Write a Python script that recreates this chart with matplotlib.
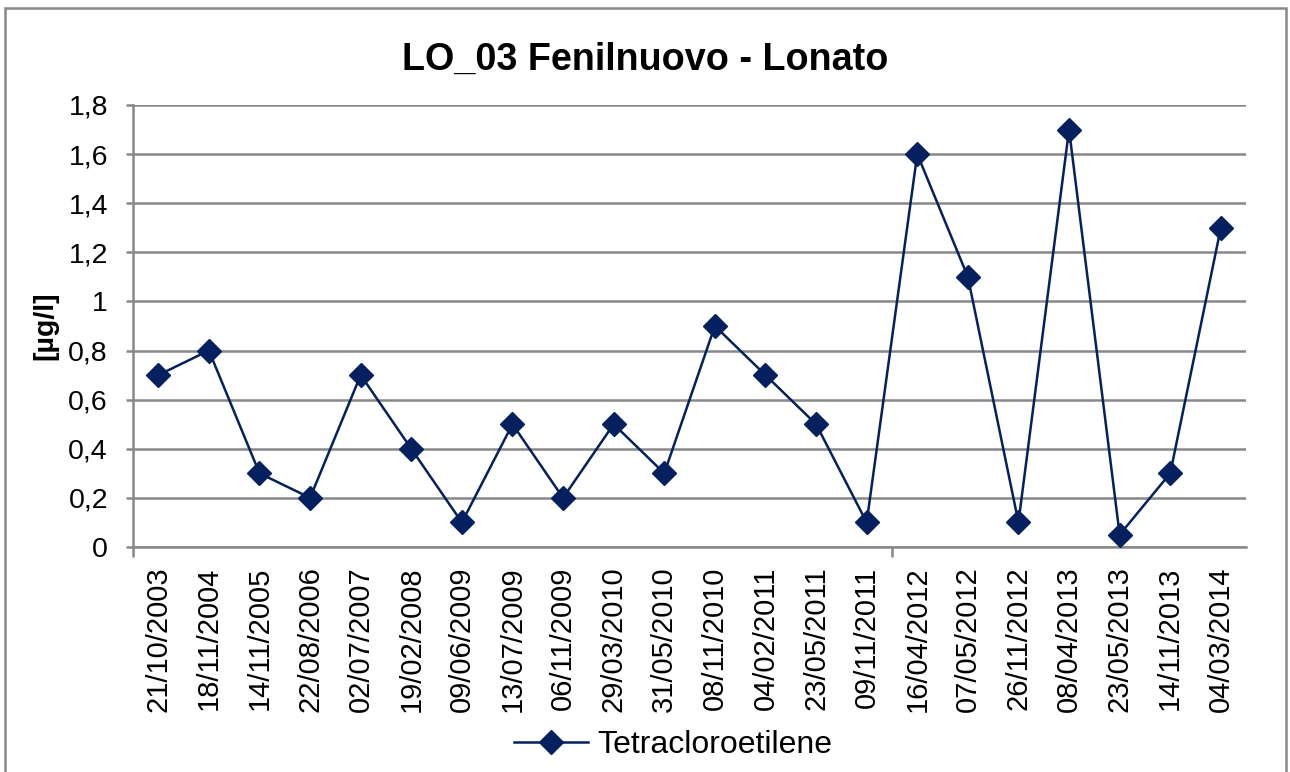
import matplotlib
matplotlib.use('Agg')
import matplotlib.pyplot as plt
from matplotlib.ticker import FuncFormatter, FixedLocator
from matplotlib.patches import Rectangle

plt.rcParams['font.family'] = ['Liberation Sans', 'DejaVu Sans']

# Data
dates = ['21/10/2003', '18/11/2004', '14/11/2005', '22/08/2006', '02/07/2007',
         '19/02/2008', '09/06/2009', '13/07/2009', '06/11/2009', '29/03/2010',
         '31/05/2010', '08/11/2010', '04/02/2011', '23/05/2011', '09/11/2011',
         '16/04/2012', '07/05/2012', '26/11/2012', '08/04/2013', '23/05/2013',
         '14/11/2013', '04/03/2014']
tetracloroetilene = [0.7, 0.8, 0.3, 0.2, 0.7, 0.4, 0.1, 0.5, 0.2, 0.5, 0.3,
                     0.9, 0.7, 0.5, 0.1, 1.6, 1.1, 0.1, 1.7, 0.05, 0.3, 1.3]
y_ticks = [0, 0.2, 0.4, 0.6, 0.8, 1.0, 1.2, 1.4, 1.6, 1.8]

GRID = '#888888'
LINE = '#04205e'

fig = plt.figure(figsize=(12.9, 7.72), dpi=100)
ax = fig.add_axes([0.1031, 0.2915, 0.8629, 0.5725])

x = list(range(len(dates)))
line, = ax.plot(x, tetracloroetilene, color=LINE, lw=1.8, marker='D', ms=12,
                markerfacecolor=LINE, markeredgecolor=LINE, label='Tetracloroetilene',
                zorder=3)

ax.set_xlim(-0.5, len(dates) - 0.5)
ax.set_ylim(0, 1.8)
ax.set_yticks(y_ticks)
ax.yaxis.set_major_formatter(FuncFormatter(lambda v, p: ('%g' % round(v, 2)).replace('.', ',')))
ax.grid(axis='y', color=GRID, lw=1.8, zorder=0)

ax.set_xticks(x)
ax.set_xticklabels(dates, rotation=90)
ax.xaxis.set_minor_locator(FixedLocator([-0.5, 14.5]))
ax.tick_params(axis='x', which='major', length=0, pad=14, labelsize=21)
ax.tick_params(axis='x', which='minor', length=7, width=1.8, color=GRID)
ax.tick_params(axis='y', length=5, width=1.8, color=GRID, pad=13, labelsize=20.5)

for s in ['top', 'right']:
    ax.spines[s].set_visible(False)
for s in ['left', 'bottom']:
    ax.spines[s].set_color(GRID)
    ax.spines[s].set_linewidth(1.8)

fig.text(0.5, 0.922, 'LO_03 Fenilnuovo - Lonato', ha='center', va='center',
         fontsize=27.2, fontweight='bold')
fig.text(45 / 1290, 0.578, '[\u00b5g/l]', ha='center', va='center', rotation=90,
         fontsize=20.5, fontweight='bold')

fig.legend(handles=[line], loc='center', bbox_to_anchor=(0.522, 0.035), frameon=False,
           fontsize=23, handlelength=2.3, handletextpad=0.3)

# chart border
fig.patches.append(Rectangle((5 / 1290, -0.05), 1281 / 1290, 1.05 - 8 / 772,
                             transform=fig.transFigure, fill=False,
                             edgecolor=GRID, lw=1.8))

fig.savefig('out.png', dpi=100)
